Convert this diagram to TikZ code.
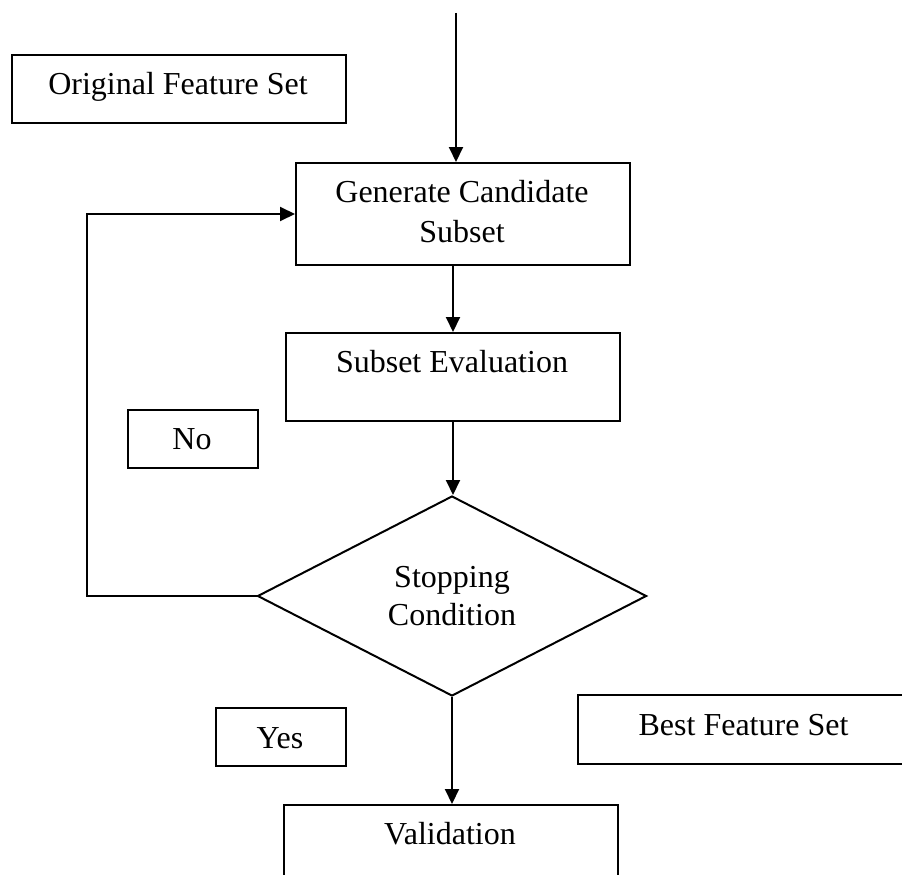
\documentclass[tikz,border=0pt]{standalone}
\usepackage{fontspec}
\setmainfont{Liberation Serif}
\usetikzlibrary{arrows.meta,shapes.geometric}
\begin{document}
\begin{tikzpicture}[x=1pt,y=-1pt,
  box/.style={draw, line width=2pt, inner sep=0pt, anchor=north west},
  decbox/.style={diamond, draw, line width=2pt, inner sep=0pt, aspect=1.945},
  txt/.style={anchor=base, font=\fontsize{32}{40}\selectfont, inner sep=0pt},
  arr/.style={line width=2pt, -{Triangle[length=15pt,width=14pt]}}]
\useasboundingbox (0,0) rectangle (902,875);
\clip (0,0) rectangle (902,875);

% boxes
\node[box, minimum width=334pt, minimum height=68pt] (orig) at (11,54) {};
\node[box, minimum width=334pt, minimum height=102pt] (gen) at (295,162) {};
\node[box, minimum width=334pt, minimum height=88pt] (sub) at (285,332) {};
\node[box, minimum width=130pt, minimum height=58pt] (no) at (127,409) {};
\node[decbox, minimum width=389pt, minimum height=200pt] (dec) at (452,596) {};
\node[box, minimum width=130pt, minimum height=58pt] (yes) at (215,707) {};
\node[box, minimum width=340pt, minimum height=69pt] (best) at (577,694) {};
\node[box, minimum width=334pt, minimum height=120pt] (val) at (283,804) {};

% texts
\node[txt] (origtxt) at (178,95) {Original Feature Set};
\node[txt] (gent1) at (462,202) {Generate Candidate};
\node[txt] (gent2) at (462,242) {Subset};
\node[txt] (subtxt) at (452,372) {Subset Evaluation};
\node[txt] (notxt) at (192,449) {No};
\node[txt] (dect1) at (452,587) {Stopping};
\node[txt] (dect2) at (452,625) {Condition};
\node[txt] (yestxt) at (280,748) {Yes};
\node[txt] (besttxt) at (743.5,735) {Best Feature Set};
\node[txt] (valtxt) at (450,844) {Validation};

% connectors
\coordinate (topin) at (456,13);
\draw[arr] (topin) -- (topin |- gen.north);
\draw[arr] (sub.north |- gen.south) -- (sub.north);
\draw[arr] (sub.south) -- (sub.south |- dec.north);
\draw[arr] (dec.south) -- (dec.south |- val.north);
\draw[arr] (dec.west) -- ++(-170,0) |- (gen.west);
\end{tikzpicture}
\end{document}
